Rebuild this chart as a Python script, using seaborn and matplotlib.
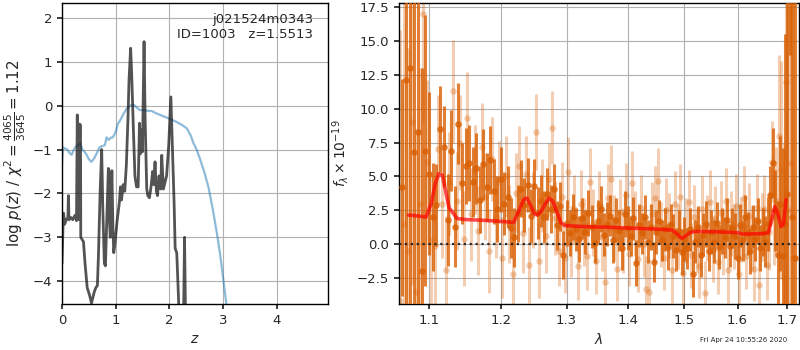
import numpy as np
import pandas as pd
import seaborn as sns
import matplotlib.pyplot as plt
from matplotlib.ticker import NullLocator

# p(z) panel
z_grid = [0.00, 0.02, 0.03, 0.05, 0.08, 0.11, 0.12, 0.13, 0.17, 0.20, 0.24, 0.27, 0.285,
          0.30, 0.32, 0.33, 0.345, 0.35, 0.40, 0.43, 0.47, 0.51, 0.55, 0.58, 0.60, 0.63,
          0.66, 0.68, 0.71, 0.74, 0.76, 0.79, 0.81, 0.83, 0.865, 0.88, 0.90, 0.93, 0.95,
          0.965, 0.99, 1.03, 1.07, 1.09, 1.11, 1.14, 1.17, 1.20, 1.23, 1.25, 1.28, 1.30,
          1.33, 1.36, 1.39, 1.42, 1.445, 1.46, 1.48, 1.50, 1.53, 1.55, 1.58, 1.60, 1.63,
          1.66, 1.69, 1.71, 1.735, 1.76, 1.78, 1.81, 1.84, 1.86, 1.89, 1.92, 1.95, 1.99,
          2.03, 2.06, 2.09, 2.11, 2.14, 2.17, 2.20, 2.26, 2.285, 2.31, 2.5, 3.0, 4.0, 4.96]
log_pz = [-3.60, -2.70, -2.45, -2.70, -2.60, -2.55, -2.05, -2.60, -2.55, -2.60, -2.50, -2.62, -0.21,
          -2.60, -2.55, -0.42, -0.45, -3.00, -3.10, -3.60, -4.15, -4.30, -4.50, -4.35, -4.25, -4.15,
          -4.10, -3.40, -2.00, -1.00, -2.30, -3.60, -3.65, -2.80, -1.43, -2.50, -3.00, -1.48, -2.80,
          -3.35, -3.10, -2.60, -2.20, -1.85, -2.15, -1.80, -1.95, -1.35, -0.30, 0.60, 1.31, 0.70,
          -0.50, -1.60, -1.85, -1.85, -0.40, -1.10, -0.55, -1.05, 1.46, -0.30, -1.90, -2.05, -2.10,
          -1.85, -1.50, -1.80, -1.28, -1.95, -2.05, -1.60, -1.90, -1.13, -1.90, -1.75, -1.60, -0.90,
          0.20, -1.00, -2.20, -3.25, -3.36, -4.30, -5.50, -5.50, -3.00, -5.50, -8.0, -15.0, -25.0, -35.0]

z_chi = [0.00, 0.02, 0.06, 0.10, 0.14, 0.18, 0.22, 0.26, 0.30, 0.34, 0.38, 0.42, 0.46, 0.50,
         0.55, 0.60, 0.65, 0.70, 0.75, 0.80, 0.83, 0.87, 0.91, 0.95, 1.00, 1.04, 1.10, 1.15,
         1.20, 1.25, 1.30, 1.35, 1.40, 1.45, 1.50, 1.55, 1.60, 1.67, 1.75, 1.85, 1.95, 2.05,
         2.15, 2.25, 2.33, 2.40, 2.45, 2.51, 2.57, 2.65, 2.73, 2.81, 2.89, 2.95, 3.01, 3.06,
         3.15, 3.5, 4.0, 4.96]
chi_curve = [-1.30, -0.95, -0.98, -1.00, -1.08, -1.12, -1.00, -0.93, -0.90, -0.85, -1.00, -1.05,
             -1.12, -1.22, -1.28, -1.20, -1.08, -0.95, -0.92, -0.90, -0.72, -0.78, -0.73, -0.72,
             -0.60, -0.42, -0.30, -0.18, -0.08, -0.02, 0.02, 0.01, -0.05, -0.10, -0.10, -0.10,
             -0.12, -0.12, -0.17, -0.22, -0.27, -0.32, -0.38, -0.45, -0.52, -0.68, -0.85, -1.00,
             -1.20, -1.50, -1.85, -2.35, -2.92, -3.40, -3.98, -4.47, -5.30, -9.0, -15.0, -25.0]

# spectrum panel, beam 1 (dark)
wave_a = [1.065, 1.070, 1.075, 1.080, 1.085, 1.090, 1.095, 1.100, 1.105, 1.110,
          1.115, 1.120, 1.125, 1.130, 1.135, 1.140, 1.145, 1.150, 1.155, 1.160,
          1.165, 1.170, 1.175, 1.180, 1.185, 1.190, 1.195, 1.200, 1.205, 1.210,
          1.215, 1.220, 1.225, 1.230, 1.235, 1.240, 1.245, 1.250, 1.255, 1.260,
          1.265, 1.270, 1.275, 1.280, 1.285, 1.290, 1.295, 1.300, 1.305, 1.310,
          1.315, 1.320, 1.325, 1.330, 1.335, 1.340, 1.345, 1.350, 1.355, 1.360,
          1.365, 1.370, 1.375, 1.380, 1.385, 1.390, 1.395, 1.400, 1.405, 1.410,
          1.415, 1.420, 1.425, 1.430, 1.435, 1.440, 1.445, 1.450, 1.455, 1.460,
          1.465, 1.470, 1.475, 1.480, 1.485, 1.490, 1.495, 1.500, 1.505, 1.510,
          1.515, 1.520, 1.525, 1.530, 1.535, 1.540, 1.545, 1.550, 1.555, 1.560,
          1.565, 1.570, 1.575, 1.580, 1.585, 1.590, 1.595, 1.600, 1.605, 1.610,
          1.615, 1.620, 1.625, 1.630, 1.635, 1.640, 1.645, 1.650, 1.655, 1.660,
          1.665, 1.670, 1.675, 1.680, 1.685, 1.690, 1.695, 1.700, 1.705, 1.710,
          1.715]
flux_a = [4.2, 12.1, 13.0, 6.8, 8.3, -2.0, 6.9, 5.2, 2.0, 2.9,
          8.5, 7.2, 1.8, 6.9, 1.3, 8.9, 4.5, 5.8, 6.0, 4.6,
          5.6, 3.3, 5.9, 4.2, 6.2, 3.9, 2.6, 4.8, 3.0, 3.5,
          1.2, 0.5, 2.3, 4.1, 2.9, 4.4, 2.1, 4.3, 2.3, 3.2,
          2.0, 3.7, 2.6, 4.1, 1.4, 2.8, -0.8, 1.6, 0.8, 2.0,
          1.1, 0.4, 1.9, 0.9, 2.3, 1.3, 0.1, 1.7, 2.6, 0.7,
          1.5, 2.1, 0.3, 1.8, 1.0, -0.3, 2.2, 1.2, 0.6, 1.9,
          -1.4, 1.4, 0.8, 2.0, 0.2, 1.3, -1.3, 0.9, 1.7, 0.3,
          1.1, -0.2, 1.5, 0.6, -0.4, 1.0, -0.6, 0.4, -0.3, 1.1,
          -2.2, 0.2, 1.3, -0.8, 0.7, 1.5, -0.5, 0.9, 0.2, 1.6,
          -0.2, 1.0, 0.5, 1.8, -0.1, 1.2, 0.6, -1.0, 1.4, 0.3,
          2.0, 0.8, -0.5, 1.3, 0.4, 1.7, -0.3, 0.9, 0.2, 1.5,
          3.6, 6.0, 2.5, -0.8, 3.0, -0.9, 1.5, 3.7, 20.0, 2.0,
          -1.0]
err_a = [8, 20, 25, 20, 15, 15, 10, 6, 4, 3.0,
         3.2, 3.0, 3.4, 3.0, 3.0, 3.0, 3.0, 2.8, 2.8, 2.6,
         2.6, 2.5, 2.6, 2.5, 2.5, 2.4, 2.4, 2.4, 2.3, 2.3,
         2.2, 2.2, 2.1, 2.1, 2.0, 2.0, 2.0, 2.0, 1.9, 1.9,
         1.9, 1.9, 1.8, 1.8, 1.8, 1.8, 1.8, 1.7, 1.7, 1.7,
         1.6, 1.7, 1.5, 1.6, 1.7, 1.6, 1.5, 1.6, 1.7, 1.6,
         1.6, 1.5, 1.7, 1.6, 1.5, 1.6, 1.7, 1.6, 1.5, 1.6,
         1.7, 1.6, 1.5, 1.6, 1.6, 1.7, 1.5, 1.6, 1.6, 1.5,
         1.6, 1.7, 1.5, 1.6, 1.6, 1.5, 1.7, 1.6, 1.5, 1.6,
         1.7, 1.6, 1.5, 1.6, 1.6, 1.7, 1.5, 1.6, 1.6, 1.5,
         1.6, 1.7, 1.5, 1.6, 1.6, 1.5, 1.7, 1.6, 1.6, 1.5,
         1.6, 1.6, 1.7, 1.6, 1.6, 1.7, 1.7, 1.8, 1.9, 2.0,
         2.2, 2.6, 3.0, 4.0, 5.0, 8.0, 14, 22, 6, 30,
         30]

# beam 2 (light)
wave_b = [1.0625, 1.0675, 1.0725, 1.0775, 1.0825, 1.0875, 1.0925, 1.0975, 1.1025, 1.1075,
          1.1125, 1.1175, 1.1225, 1.1275, 1.1325, 1.1375, 1.1425, 1.1475, 1.1525, 1.1575,
          1.1625, 1.1675, 1.1725, 1.1775, 1.1825, 1.1875, 1.1925, 1.1975, 1.2025, 1.2075,
          1.2125, 1.2175, 1.2225, 1.2275, 1.2325, 1.2375, 1.2425, 1.2475, 1.2525, 1.2575,
          1.2625, 1.2675, 1.2725, 1.2775, 1.2825, 1.2875, 1.2925, 1.2975, 1.3025, 1.3075,
          1.3125, 1.3175, 1.3225, 1.3275, 1.3325, 1.3375, 1.3425, 1.3475, 1.3525, 1.3575,
          1.3625, 1.3675, 1.3725, 1.3775, 1.3825, 1.3875, 1.3925, 1.3975, 1.4025, 1.4075,
          1.4125, 1.4175, 1.4225, 1.4275, 1.4325, 1.4375, 1.4425, 1.4475, 1.4525, 1.4575,
          1.4625, 1.4675, 1.4725, 1.4775, 1.4825, 1.4875, 1.4925, 1.4975, 1.5025, 1.5075,
          1.5125, 1.5175, 1.5225, 1.5275, 1.5325, 1.5375, 1.5425, 1.5475, 1.5525, 1.5575,
          1.5625, 1.5675, 1.5725, 1.5775, 1.5825, 1.5875, 1.5925, 1.5975, 1.6025, 1.6075,
          1.6125, 1.6175, 1.6225, 1.6275, 1.6325, 1.6375, 1.6425, 1.6475, 1.6525, 1.6575,
          1.6625, 1.6675, 1.6725, 1.6775, 1.6825, 1.6875, 1.6925, 1.6975, 1.7025, 1.7075,
          1.7125]
flux_b = [-4.2, 1.5, -0.5, 9.0, -3.5, 3.0, 17.0, 6.1, 0.3, -0.1,
          7.0, 3.0, -1.9, 4.5, 11.3, 3.2, 7.5, 0.4, 9.3, 2.2,
          5.5, 1.0, 7.2, 3.5, -0.5, 6.3, 2.0, 4.6, -1.0, 5.0,
          1.5, -2.2, 3.8, 5.8, 0.8, 5.2, -1.5, 2.5, 8.3, -1.2,
          3.6, 0.6, 4.8, 8.6, 1.9, -0.5, 3.5, -1.0, 5.3, 0.2,
          2.6, -1.6, 3.0, 0.9, -0.9, 4.6, 1.6, -1.2, 2.9, 0.5,
          -2.8, 3.4, 4.8, 1.2, -1.8, 2.4, 0.3, 3.6, -0.7, 4.5,
          1.5, -1.1, 2.7, 0.0, -3.3, -3.5, 2.2, 3.4, 4.7, 0.7,
          -1.0, 2.5, 1.4, -1.9, 3.0, 0.6, 3.5, -2.1, 1.0, 3.1,
          -0.8, 2.0, 0.3, -1.6, 2.6, -3.6, 1.2, 3.1, -0.4, 1.9,
          -1.3, 2.3, 0.1, 3.2, -1.9, 1.5, 0.6, 2.8, -2.2, 1.1,
          3.4, -0.9, 2.1, 0.4, -1.8, 2.7, -3.0, 1.3, 2.6, -1.5,
          0.9, 6.1, 2.0, 3.2, 8.0, 5.5, -2.5, 12.0, 2.5, 6.0,
          -1.0]
err_b = [20, 18, 15, 12, 12, 10, 8, 6, 5, 4.5,
         4.0, 4.0, 4.0, 3.8, 3.8, 3.6, 3.5, 3.5, 3.4, 3.4,
         3.3, 3.3, 3.2, 3.2, 3.1, 3.1, 3.0, 3.0, 3.0, 3.0,
         2.9, 2.9, 2.9, 2.9, 2.9, 2.8, 2.8, 2.8, 2.8, 2.8,
         2.7, 2.7, 2.7, 2.7, 2.7, 2.6, 2.6, 2.6, 2.6, 2.6,
         2.5, 2.5, 2.5, 2.5, 2.5, 2.5, 2.5, 2.5, 2.5, 2.5,
         2.5, 2.5, 2.5, 2.4, 2.4, 2.4, 2.4, 2.4, 2.4, 2.4,
         2.4, 2.4, 2.4, 2.4, 2.4, 2.4, 2.4, 2.4, 2.4, 2.4,
         2.4, 2.4, 2.4, 2.4, 2.4, 2.4, 2.4, 2.4, 2.4, 2.4,
         2.4, 2.4, 2.4, 2.4, 2.4, 2.4, 2.4, 2.4, 2.4, 2.4,
         2.4, 2.4, 2.4, 2.4, 2.4, 2.4, 2.4, 2.4, 2.4, 2.4,
         2.4, 2.4, 2.4, 2.4, 2.4, 2.5, 2.5, 2.5, 2.5, 2.6,
         2.8, 3.0, 3.5, 4.0, 6.0, 8.0, 10, 12, 15, 20,
         25]

# best-fit model
wave_model = [1.073, 1.080, 1.090, 1.096, 1.103, 1.108, 1.113, 1.118, 1.122, 1.127,
              1.132, 1.138, 1.150, 1.170, 1.190, 1.210, 1.219, 1.228, 1.234, 1.239,
              1.245, 1.250, 1.254, 1.260, 1.267, 1.273, 1.278, 1.284, 1.291, 1.297,
              1.330, 1.370, 1.410, 1.450, 1.477, 1.486, 1.495, 1.502, 1.510, 1.520,
              1.560, 1.600, 1.610, 1.650, 1.661, 1.668, 1.674, 1.680, 1.687, 1.692,
              1.697]
flux_model = [2.15, 2.12, 2.05, 2.00, 3.00, 4.40, 5.20, 5.10, 4.00, 2.70,
              2.35, 1.90, 1.82, 1.78, 1.72, 1.65, 1.60, 2.60, 3.30, 3.40,
              2.80, 2.25, 2.16, 2.40, 3.00, 3.40, 3.20, 2.50, 1.60, 1.38,
              1.30, 1.25, 1.18, 1.12, 1.05, 0.80, 0.44, 0.60, 0.85, 0.95,
              0.92, 0.85, 0.75, 0.78, 0.85, 1.80, 2.78, 2.30, 1.30, 1.50,
              3.30]

z_ticks = [0, 1, 2, 3, 4]
pz_ticks = [-4, -3, -2, -1, 0, 1, 2]
lam_ticks = [1.1, 1.2, 1.3, 1.4, 1.5, 1.6, 1.7]
flux_ticks = [-2.5, 0.0, 2.5, 5.0, 7.5, 10.0, 12.5, 15.0, 17.5]

sns.set_theme(style="ticks", rc={
    "axes.grid": True, "grid.color": "#b0b0b0", "grid.linewidth": 0.8,
    "axes.edgecolor": "black", "axes.linewidth": 1.0,
    "xtick.labelsize": 9.5, "ytick.labelsize": 9.5, "axes.labelsize": 10,
    "xtick.major.size": 3.5, "ytick.major.size": 3.5,
})
plt.rcParams["font.family"] = ["DejaVu Sans"]

fig = plt.figure(figsize=(8, 3.5), dpi=100)
ax1 = fig.add_axes([0.0775, 0.1314, 0.3325, 0.86])
ax2 = fig.add_axes([0.49875, 0.1314, 0.5, 0.86])

df_pz = pd.DataFrame({"z": z_grid, "logp": log_pz})
df_chi = pd.DataFrame({"z": z_chi, "val": chi_curve})
sns.lineplot(data=df_chi, x="z", y="val", ax=ax1, color="#1f77b4", alpha=0.5, lw=1.6)
sns.lineplot(data=df_pz, x="z", y="logp", ax=ax1, color="k", alpha=0.75, lw=2)
ax1.set_xlim(0, 4.96)
ax1.set_ylim(-4.52, 2.34)
ax1.set_xticks(z_ticks)
ax1.set_yticks(pz_ticks)
ax1.set_xlabel(r"$z$")
ax1.set_ylabel(r"log $p(z)$ / $\chi^2=\frac{4065}{3645}=1.12$", fontsize=10.8, labelpad=3)
ax1.text(0.945, 0.968, "j021524m0343\nID=1003   z=1.5513", transform=ax1.transAxes,
         ha="right", va="top", fontsize=9.5)

orange = "#d95f02"
df_b = pd.DataFrame({"wave": wave_b, "flux": flux_b, "err": err_b})
df_a = pd.DataFrame({"wave": wave_a, "flux": flux_a, "err": err_a})
ax2.errorbar(df_b["wave"], df_b["flux"], yerr=df_b["err"], fmt="none", ecolor=orange,
             alpha=0.3, elinewidth=2.2, zorder=2)
sns.scatterplot(data=df_b, x="wave", y="flux", ax=ax2, color=orange, alpha=0.3, s=22,
                linewidth=0, zorder=2)
ax2.errorbar(df_a["wave"], df_a["flux"], yerr=df_a["err"], fmt="none", ecolor=orange,
             alpha=0.8, elinewidth=2.2, zorder=3)
sns.scatterplot(data=df_a, x="wave", y="flux", ax=ax2, color=orange, alpha=0.8, s=22,
                linewidth=0, zorder=3)
df_m = pd.DataFrame({"wave": wave_model, "flux": flux_model})
sns.lineplot(data=df_m, x="wave", y="flux", ax=ax2, color="red", alpha=0.7, lw=2.6, zorder=4)
ax2.axhline(0, color="k", ls=":", lw=1.6, alpha=0.9, zorder=5)

ax2.set_xscale("log")
ax2.set_xlim(1.0606, 1.724)
ax2.set_ylim(-4.41, 17.8)
ax2.set_xticks(lam_ticks)
ax2.set_xticklabels([f"{t:.1f}" for t in lam_ticks])
ax2.xaxis.set_minor_locator(NullLocator())
ax2.set_yticks(flux_ticks)
ax2.set_xlabel(r"$\lambda$")
ax2.set_ylabel(r"$f_\lambda\times10^{-19}$")

for ax in (ax1, ax2):
    for s in ax.spines.values():
        s.set_visible(True)

fig.text(0.984, 0.029, "Fri Apr 24 10:55:26 2020", ha="right", va="center", fontsize=5)

fig.savefig("out.png", dpi=100)
